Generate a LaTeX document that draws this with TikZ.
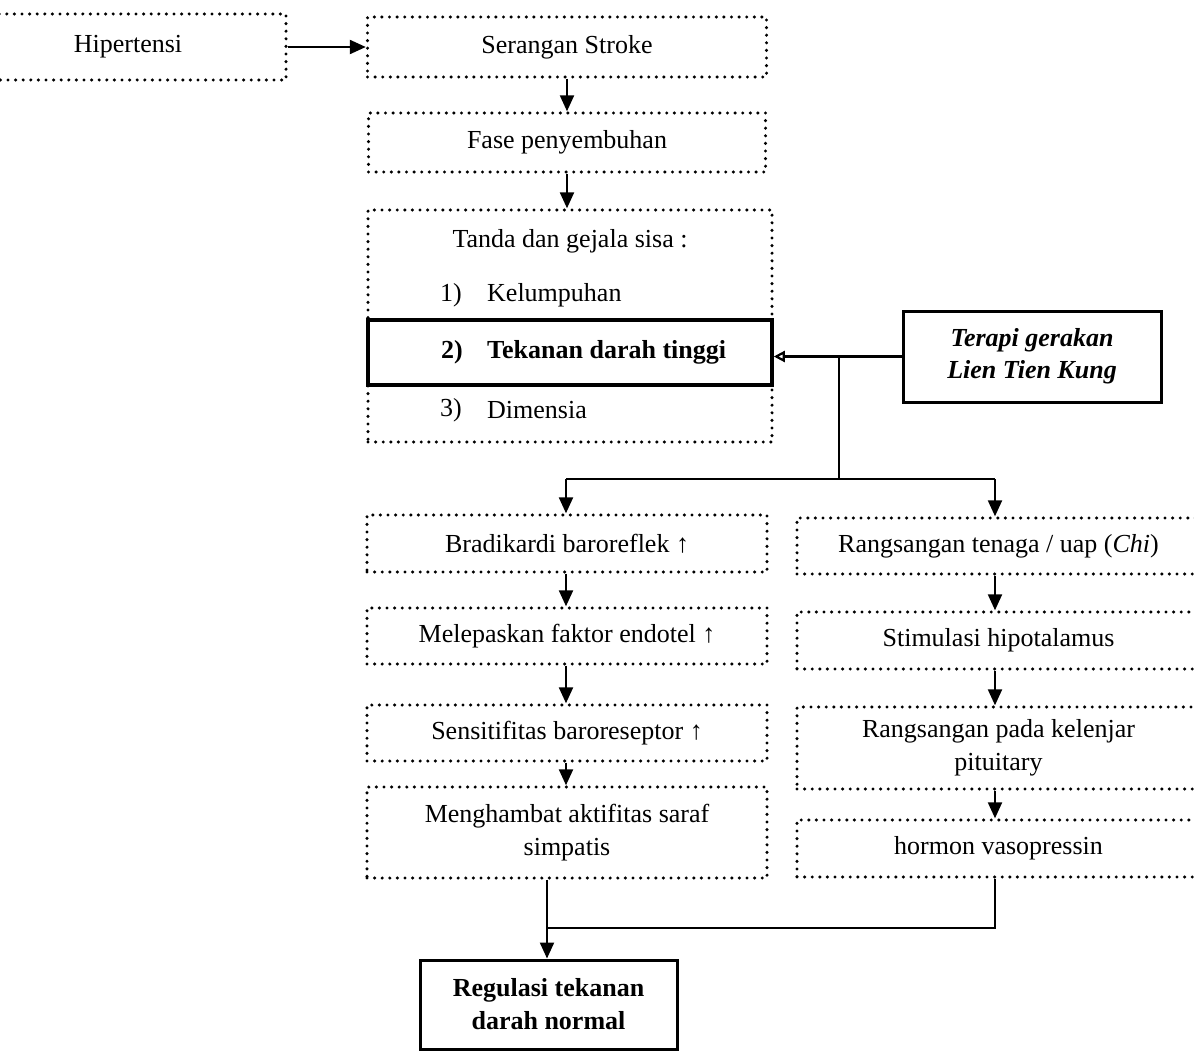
\documentclass[tikz,border=0pt]{standalone}
\usepackage{fontspec}
\setmainfont{Liberation Serif}
\usetikzlibrary{arrows.meta}
\begin{document}
\begin{tikzpicture}[x=1pt,y=-1pt,
  font=\fontsize{26}{33}\selectfont,
  dotbox/.style={draw, line width=3.4pt, dash pattern=on 0pt off 7.6pt, line cap=round, inner sep=0pt, align=center},
  solidbox/.style={draw, line width=3pt, inner sep=0pt, align=center},
  conn/.style={line width=2.2pt},
  arr/.style={conn, -{Triangle[length=16pt,width=14pt]}},
  openarr/.style={conn, -{Triangle[open, length=11pt, width=11pt, line width=2.2pt]}},
  txt/.style={inner sep=0pt},
]
\useasboundingbox (0,0) rectangle (1194,1051);
\clip (0,0) rectangle (1194,1051);

% top chain
\node[dotbox, minimum width=316pt, minimum height=66pt] (hip) at (128,47) {Hipertensi};
\node[dotbox, minimum width=399pt, minimum height=60pt] (ser) at (567,47) {Serangan Stroke};
\node[dotbox, minimum width=397pt, minimum height=59pt] (fase) at (567,142.5) {Fase penyembuhan};

% residual signs box
\node[dotbox, minimum width=404pt, minimum height=232pt] (big) at (570,326) {};
\node[solidbox, line width=3.5pt, minimum width=404pt, minimum height=65pt] (tek) at (570,352.5) {};
\node[txt] (t0) at (570,241) {Tanda dan gejala sisa :};
\node[txt, anchor=west] (n1) at (440,295) {1)};
\node[txt, anchor=west] (l1) at (487,295) {Kelumpuhan};
\node[txt, anchor=west] (n2) at (441,352) {\bfseries 2)};
\node[txt, anchor=west] (l2) at (487,352) {\bfseries Tekanan darah tinggi};
\node[txt, anchor=west] (n3) at (440,410) {3)};
\node[txt, anchor=west] (l3) at (487,410) {Dimensia};

% therapy
\node[solidbox, minimum width=258pt, minimum height=91pt] (ter) at (1032,356.5)
  {\bfseries\itshape Terapi gerakan\\[-1pt]\bfseries\itshape Lien Tien Kung};

% left column
\node[dotbox, minimum width=400pt, minimum height=57pt] (bra) at (567,543.5) {Bradikardi baroreflek ↑};
\node[dotbox, minimum width=400pt, minimum height=56pt] (mel) at (567,636) {Melepaskan faktor endotel ↑};
\node[dotbox, minimum width=400pt, minimum height=56pt] (sen) at (567,733) {Sensitifitas baroreseptor ↑};
\node[dotbox, minimum width=400pt, minimum height=91pt] (men) at (567,832.5) {Menghambat aktifitas saraf\\simpatis};

% right column
\node[dotbox, minimum width=403pt, minimum height=56pt] (ran) at (998.5,546) {Rangsangan tenaga / uap (\textit{Chi})};
\node[dotbox, minimum width=403pt, minimum height=57pt] (sti) at (998.5,640.5) {Stimulasi hipotalamus};
\node[dotbox, minimum width=403pt, minimum height=82pt] (kel) at (998.5,748) {Rangsangan pada kelenjar\\pituitary};
\node[dotbox, minimum width=403pt, minimum height=57pt] (hor) at (998.5,848.5) {hormon vasopressin};

% result
\node[solidbox, minimum width=257pt, minimum height=89pt] (reg) at (548.5,1004.5)
  {\bfseries Regulasi tekanan\\\bfseries darah normal};

% junction coordinates
\coordinate (jt) at (839,479);
\coordinate (jl) at (566,479);
\coordinate (jr) at (995,479);
\coordinate (jb) at (547,928);

% connectors
\draw[arr] (hip.east) -- (ser.west);
\draw[arr] (ser.south) -- (fase.north);
\draw[arr] (fase.south) -- (fase.south |- big.north);
\draw[openarr] (ter.west) -- (ter.west -| tek.east);
\draw[conn] (ter.west -| jt) -- (jt);
\draw[conn] (jl) -- (jr);
\draw[arr] (jl) -- (jl |- bra.north);
\draw[arr] (jr) -- (jr |- ran.north);
\draw[arr] (bra.south -| jl) -- (mel.north -| jl);
\draw[arr] (mel.south -| jl) -- (sen.north -| jl);
\draw[arr] (sen.south -| jl) -- (men.north -| jl);
\draw[arr] (ran.south -| jr) -- (sti.north -| jr);
\draw[arr] (sti.south -| jr) -- (kel.north -| jr);
\draw[arr] (kel.south -| jr) -- (hor.north -| jr);
\draw[arr] (men.south -| jb) -- (reg.north -| jb);
\draw[conn] (hor.south -| jr) |- (jb);
\end{tikzpicture}
\end{document}
